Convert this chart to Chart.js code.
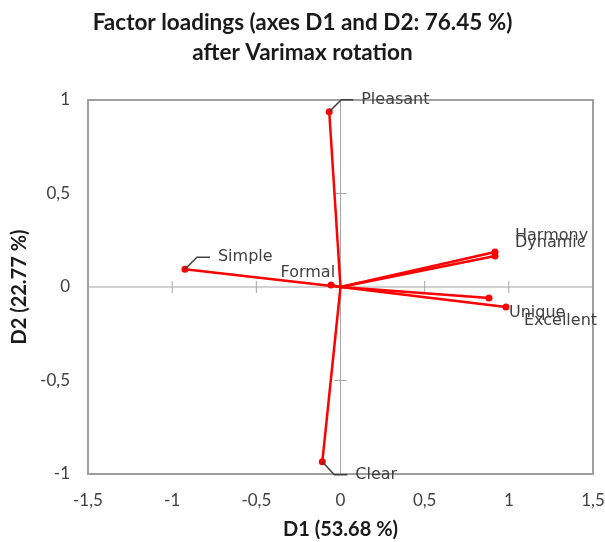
<!DOCTYPE html>
<html>
<head>
<meta charset="utf-8">
<script src="https://cdn.jsdelivr.net/npm/chart.js@4"></script>
<style>
  html, body { margin: 0; padding: 0; background: #fff; }
  #wrap { width: 605px; height: 542px; }
</style>
</head>
<body>
<div id="wrap"><canvas id="chart" width="605" height="542"></canvas></div>
<script>
// factor loadings after varimax rotation
const variables = ['Pleasant', 'Simple', 'Formal', 'Harmony', 'Dynamic', 'Unique', 'Excellent', 'Clear'];
const d1 = [-0.067, -0.924, -0.056, 0.918, 0.918, 0.882, 0.983, -0.108];
const d2 = [0.937, 0.095, 0.011, 0.187, 0.166, -0.059, -0.107, -0.934];
const xTicks = [-1.5, -1, -0.5, 0, 0.5, 1, 1.5];
const yTicks = [-1, -0.5, 0, 0.5, 1];

// label placement: [dx, dy, align, leader]
const labelPos = {
  Pleasant: [32, -12, 'left', true],
  Simple: [33, -12, 'left', true],
  Formal: [4, -12, 'right', false],
  Harmony: [20, -16, 'left', false],
  Dynamic: [20, -13, 'left', false],
  Unique: [20, 15, 'left', false],
  Excellent: [18, 14, 'left', false],
  Clear: [33, 13, 'left', true],
};

const RED = '#ff0000';
const FONT = 'Lato';
const comma = (v) => String(v).replace('.', ',');

const datasets = variables.map((name, i) => ({
  label: name,
  data: [{ x: 0, y: 0 }, { x: d1[i], y: d2[i] }],
  showLine: true,
  borderColor: RED,
  backgroundColor: RED,
  borderWidth: 2.5,
  pointRadius: [0, 3.5],
  pointBorderWidth: 0,
}));

// frame + axes through the origin with crossing tick marks
const axesPlugin = {
  id: 'axes',
  beforeDatasetsDraw(chart) {
    const { ctx, chartArea: a, scales: { x, y } } = chart;
    const x0 = x.getPixelForValue(0);
    const y0 = y.getPixelForValue(0);
    ctx.save();
    ctx.strokeStyle = '#a6a6a6';
    ctx.lineWidth = 1;
    ctx.beginPath();
    ctx.moveTo(a.left, y0); ctx.lineTo(a.right, y0);
    ctx.moveTo(x0, a.top); ctx.lineTo(x0, a.bottom);
    xTicks.forEach((t) => {
      const px = x.getPixelForValue(t);
      ctx.moveTo(px, y0 - 6); ctx.lineTo(px, y0 + 6);
    });
    yTicks.forEach((t) => {
      const py = y.getPixelForValue(t);
      ctx.moveTo(x0 - 6, py); ctx.lineTo(x0 + 6, py);
    });
    ctx.stroke();
    ctx.strokeStyle = '#a0a0a0';
    ctx.lineWidth = 2;
    ctx.strokeRect(a.left, a.top, a.right - a.left, a.bottom - a.top);
    ctx.restore();
  },
};

const labelPlugin = {
  id: 'varLabels',
  afterDatasetsDraw(chart) {
    const { ctx } = chart;
    ctx.save();
    ctx.font = '16px "DejaVu Sans"';
    ctx.textBaseline = 'middle';
    variables.forEach((name, i) => {
      const pt = chart.getDatasetMeta(i).data[1];
      const [dx, dy, align, leader] = labelPos[name];
      const tx = pt.x + dx;
      const ty = pt.y + dy;
      if (leader) {
        ctx.strokeStyle = '#404040';
        ctx.lineWidth = 1.5;
        ctx.beginPath();
        ctx.moveTo(pt.x, pt.y);
        ctx.lineTo(pt.x + 12, ty);
        ctx.lineTo(tx - 8, ty);
        ctx.stroke();
      }
      ctx.fillStyle = '#404040';
      ctx.textAlign = align;
      ctx.fillText(name, tx, ty);
    });
    ctx.restore();
  },
};

new Chart(document.getElementById('chart'), {
  type: 'scatter',
  data: { datasets },
  options: {
    responsive: false,
    animation: false,
    layout: { padding: 0 },
    plugins: {
      legend: { display: false },
      tooltip: { enabled: false },
      title: {
        display: true,
        text: ['Factor loadings (axes D1 and D2: 76.45 %)', 'after Varimax rotation'],
        color: '#1a1a1a',
        font: { family: FONT, size: 22.5, weight: 'bold', lineHeight: '30px' },
        padding: { top: 8, bottom: 32 },
      },
    },
    scales: {
      x: {
        type: 'linear',
        min: -1.5,
        max: 1.5,
        afterBuildTicks: (s) => { s.ticks = xTicks.map((v) => ({ value: v })); },
        afterFit: (s) => { s.height = 68; s.paddingLeft = 0; s.paddingRight = 12; },
        grid: { display: false, drawTicks: false },
        border: { display: false },
        ticks: { color: '#404040', padding: 16, font: { family: FONT, size: 17 }, callback: comma },
        title: {
          display: true,
          text: 'D1 (53.68 %)',
          color: '#1a1a1a',
          font: { family: FONT, size: 20, weight: 'bold', lineHeight: '20px' },
          padding: { top: 0, bottom: 2 },
        },
      },
      y: {
        type: 'linear',
        min: -1,
        max: 1,
        afterBuildTicks: (s) => { s.ticks = yTicks.map((v) => ({ value: v })); },
        afterFit: (s) => { s.width = 88; },
        grid: { display: false, drawTicks: false },
        border: { display: false },
        ticks: { color: '#404040', padding: 18, font: { family: FONT, size: 17 }, callback: comma },
        title: {
          display: true,
          text: 'D2 (22.77 %)',
          color: '#1a1a1a',
          font: { family: FONT, size: 20, weight: 'bold', lineHeight: '20px' },
          padding: { top: 10, bottom: 0 },
        },
      },
    },
  },
  plugins: [axesPlugin, labelPlugin],
});
</script>
</body>
</html>
